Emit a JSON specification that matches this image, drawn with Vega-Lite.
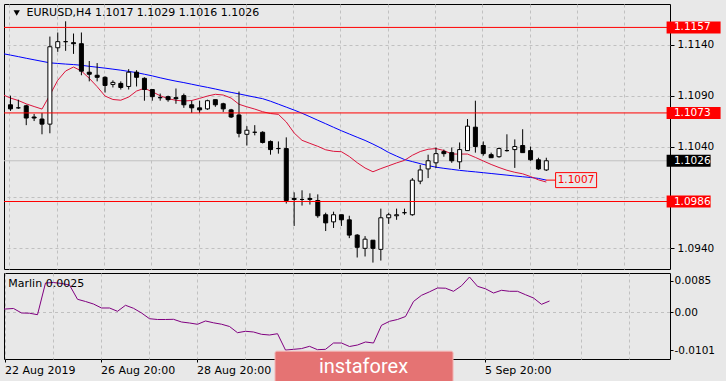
{
  "$schema": "https://vega.github.io/schema/vega-lite/v6.json",
  "background": "#e8e8e8",
  "padding": {"left": 3, "top": 3, "right": 10, "bottom": 0},
  "spacing": 2,
  "config": {
    "view": {"stroke": "#000000", "strokeWidth": 1, "fill": "#e8e8e8"},
    "font": "DejaVu Sans",
    "axis": {"labelFont": "DejaVu Sans", "labelFontSize": 10.5, "labelColor": "#000000", "tickColor": "#000000", "domain": false, "gridColor": "#c0c0c0", "gridDash": [3, 3]},
    "text": {"font": "DejaVu Sans", "fontSize": 11}
  },
  "datasets": {
    "candles": [
      {"i":-1,"fast":1.10910,"slow":1.11313,"marlin":0.00080},
      {"i":0,"o":1.1081,"h":1.1090,"l":1.1075,"c":1.1077,"fast":1.10876,"slow":1.11298,"marlin":0.00094},
      {"i":1,"o":1.1078,"h":1.1086,"l":1.1077,"c":1.1078,"fast":1.10852,"slow":1.11283,"marlin":0.00108},
      {"i":2,"o":1.1080,"h":1.1081,"l":1.1061,"c":1.1068,"fast":1.10819,"slow":1.11267,"marlin":-0.00013},
      {"i":3,"o":1.1069,"h":1.1072,"l":1.1065,"c":1.1068,"fast":1.10793,"slow":1.11252,"marlin":-0.00019},
      {"i":4,"o":1.1067,"h":1.1073,"l":1.1052,"c":1.1062,"fast":1.10768,"slow":1.11237,"marlin":-0.00059},
      {"i":5,"o":1.1062,"h":1.1148,"l":1.1053,"c":1.1138,"fast":1.10906,"slow":1.11222,"marlin":0.00793},
      {"i":6,"o":1.1137,"h":1.1152,"l":1.1133,"c":1.1143,"fast":1.11051,"slow":1.11216,"marlin":0.00806},
      {"i":7,"o":1.1143,"h":1.1163,"l":1.1134,"c":1.1143,"fast":1.11142,"slow":1.11210,"marlin":0.00780},
      {"i":8,"o":1.1142,"h":1.1151,"l":1.1131,"c":1.1141,"fast":1.11181,"slow":1.11205,"marlin":0.00739},
      {"i":9,"o":1.1141,"h":1.1152,"l":1.1110,"c":1.1114,"fast":1.11142,"slow":1.11198,"marlin":0.00355},
      {"i":10,"o":1.1113,"h":1.1124,"l":1.1104,"c":1.1111,"fast":1.11070,"slow":1.11188,"marlin":0.00296},
      {"i":11,"o":1.1110,"h":1.1122,"l":1.1104,"c":1.1108,"fast":1.10988,"slow":1.11179,"marlin":0.00228},
      {"i":12,"o":1.1108,"h":1.1109,"l":1.1093,"c":1.1100,"fast":1.10896,"slow":1.11170,"marlin":0.00121},
      {"i":13,"o":1.1101,"h":1.1105,"l":1.1098,"c":1.1103,"fast":1.10862,"slow":1.11160,"marlin":0.00121},
      {"i":14,"o":1.1102,"h":1.1104,"l":1.1096,"c":1.1098,"fast":1.10855,"slow":1.11150,"marlin":0.00032},
      {"i":15,"o":1.1099,"h":1.1116,"l":1.1096,"c":1.1113,"fast":1.10886,"slow":1.11138,"marlin":0.00194},
      {"i":16,"o":1.1113,"h":1.1115,"l":1.1099,"c":1.1108,"fast":1.10945,"slow":1.11126,"marlin":0.00113},
      {"i":17,"o":1.1107,"h":1.1108,"l":1.1085,"c":1.1096,"fast":1.10972,"slow":1.11110,"marlin":-0.00013},
      {"i":18,"o":1.1096,"h":1.1096,"l":1.1085,"c":1.1089,"fast":1.10938,"slow":1.11094,"marlin":-0.00167},
      {"i":19,"o":1.1088,"h":1.1092,"l":1.1085,"c":1.1088,"fast":1.10899,"slow":1.11075,"marlin":-0.00188},
      {"i":20,"o":1.1089,"h":1.1090,"l":1.1084,"c":1.1086,"fast":1.10870,"slow":1.11058,"marlin":-0.00188},
      {"i":21,"o":1.1088,"h":1.1097,"l":1.1082,"c":1.1087,"fast":1.10854,"slow":1.11042,"marlin":-0.00183},
      {"i":22,"o":1.1090,"h":1.1092,"l":1.1078,"c":1.1081,"fast":1.10847,"slow":1.11028,"marlin":-0.00255},
      {"i":23,"o":1.1081,"h":1.1085,"l":1.1073,"c":1.1078,"fast":1.10852,"slow":1.11012,"marlin":-0.00282},
      {"i":24,"o":1.1078,"h":1.1085,"l":1.1073,"c":1.1076,"fast":1.10873,"slow":1.10996,"marlin":-0.00317},
      {"i":25,"o":1.1077,"h":1.1086,"l":1.1076,"c":1.1085,"fast":1.10896,"slow":1.10981,"marlin":-0.00228},
      {"i":26,"o":1.1086,"h":1.1086,"l":1.1079,"c":1.1081,"fast":1.10913,"slow":1.10965,"marlin":-0.00277},
      {"i":27,"o":1.1082,"h":1.1083,"l":1.1074,"c":1.1077,"fast":1.10906,"slow":1.10948,"marlin":-0.00315},
      {"i":28,"o":1.1076,"h":1.1077,"l":1.1068,"c":1.1069,"fast":1.10876,"slow":1.10932,"marlin":-0.00376},
      {"i":29,"o":1.1071,"h":1.1094,"l":1.1049,"c":1.1053,"fast":1.10815,"slow":1.10917,"marlin":-0.00543},
      {"i":30,"o":1.1052,"h":1.1060,"l":1.1041,"c":1.1056,"fast":1.10790,"slow":1.10901,"marlin":-0.00505},
      {"i":31,"o":1.1054,"h":1.1061,"l":1.1051,"c":1.1054,"fast":1.10768,"slow":1.10885,"marlin":-0.00524},
      {"i":32,"o":1.1054,"h":1.1055,"l":1.1043,"c":1.1044,"fast":1.10742,"slow":1.10870,"marlin":-0.00586},
      {"i":33,"o":1.1045,"h":1.1046,"l":1.1032,"c":1.1037,"fast":1.10724,"slow":1.10845,"marlin":-0.00605},
      {"i":34,"o":1.1038,"h":1.1045,"l":1.1033,"c":1.1038,"fast":1.10716,"slow":1.10816,"marlin":-0.00570},
      {"i":35,"o":1.1038,"h":1.1049,"l":1.0984,"c":1.0987,"fast":1.10641,"slow":1.10787,"marlin":-0.01010},
      {"i":36,"o":1.0989,"h":1.0995,"l":1.0962,"c":1.0988,"fast":1.10533,"slow":1.10758,"marlin":-0.00990},
      {"i":37,"o":1.0988,"h":1.0997,"l":1.0982,"c":1.0988,"fast":1.10461,"slow":1.10727,"marlin":-0.00970},
      {"i":38,"o":1.0989,"h":1.0994,"l":1.0983,"c":1.0988,"fast":1.10431,"slow":1.10693,"marlin":-0.00909},
      {"i":39,"o":1.0987,"h":1.0993,"l":1.0970,"c":1.0972,"fast":1.10402,"slow":1.10658,"marlin":-0.01000},
      {"i":40,"o":1.0973,"h":1.0975,"l":1.0957,"c":1.0965,"fast":1.10368,"slow":1.10624,"marlin":-0.00990},
      {"i":41,"o":1.0966,"h":1.0976,"l":1.0960,"c":1.0973,"fast":1.10353,"slow":1.10589,"marlin":-0.00820},
      {"i":42,"o":1.0973,"h":1.0973,"l":1.0962,"c":1.0968,"fast":1.10349,"slow":1.10555,"marlin":-0.00820},
      {"i":43,"o":1.0968,"h":1.0972,"l":1.0950,"c":1.0953,"fast":1.10302,"slow":1.10523,"marlin":-0.00914},
      {"i":44,"o":1.0953,"h":1.0954,"l":1.0931,"c":1.0941,"fast":1.10241,"slow":1.10491,"marlin":-0.00874},
      {"i":45,"o":1.0940,"h":1.0952,"l":1.0932,"c":1.0949,"fast":1.10189,"slow":1.10460,"marlin":-0.00793},
      {"i":46,"o":1.0948,"h":1.0948,"l":1.0926,"c":1.0940,"fast":1.10152,"slow":1.10424,"marlin":-0.00820},
      {"i":47,"o":1.0939,"h":1.0979,"l":1.0928,"c":1.0970,"fast":1.10183,"slow":1.10385,"marlin":-0.00344},
      {"i":48,"o":1.0970,"h":1.0975,"l":1.0964,"c":1.0973,"fast":1.10211,"slow":1.10341,"marlin":-0.00237},
      {"i":49,"o":1.0972,"h":1.0979,"l":1.0968,"c":1.0973,"fast":1.10239,"slow":1.10306,"marlin":-0.00188},
      {"i":50,"o":1.0975,"h":1.0979,"l":1.0973,"c":1.0975,"fast":1.10264,"slow":1.10272,"marlin":-0.00108},
      {"i":51,"o":1.0973,"h":1.1009,"l":1.0972,"c":1.1007,"fast":1.10314,"slow":1.10252,"marlin":0.00296},
      {"i":52,"o":1.1006,"h":1.1022,"l":1.1003,"c":1.1017,"fast":1.10351,"slow":1.10232,"marlin":0.00462},
      {"i":53,"o":1.1018,"h":1.1032,"l":1.1009,"c":1.1026,"fast":1.10373,"slow":1.10213,"marlin":0.00556},
      {"i":54,"o":1.1024,"h":1.1039,"l":1.1019,"c":1.1033,"fast":1.10380,"slow":1.10197,"marlin":0.00659},
      {"i":55,"o":1.1035,"h":1.1037,"l":1.1030,"c":1.1033,"fast":1.10361,"slow":1.10186,"marlin":0.00653},
      {"i":56,"o":1.1034,"h":1.1039,"l":1.1024,"c":1.1026,"fast":1.10326,"slow":1.10176,"marlin":0.00570},
      {"i":57,"o":1.1025,"h":1.1044,"l":1.1018,"c":1.1037,"fast":1.10326,"slow":1.10166,"marlin":0.00718},
      {"i":58,"o":1.1036,"h":1.1067,"l":1.1036,"c":1.1060,"fast":1.10326,"slow":1.10158,"marlin":0.00954},
      {"i":59,"o":1.1059,"h":1.1085,"l":1.1034,"c":1.1040,"fast":1.10293,"slow":1.10151,"marlin":0.00704},
      {"i":60,"o":1.1041,"h":1.1045,"l":1.1031,"c":1.1033,"fast":1.10258,"slow":1.10143,"marlin":0.00637},
      {"i":61,"o":1.1032,"h":1.1034,"l":1.1029,"c":1.1029,"fast":1.10224,"slow":1.10135,"marlin":0.00524},
      {"i":62,"o":1.1030,"h":1.1039,"l":1.1029,"c":1.1038,"fast":1.10194,"slow":1.10127,"marlin":0.00597},
      {"i":63,"o":1.1036,"h":1.1052,"l":1.1035,"c":1.1036,"fast":1.10167,"slow":1.10119,"marlin":0.00570},
      {"i":64,"o":1.1037,"h":1.1047,"l":1.1019,"c":1.1040,"fast":1.10147,"slow":1.10111,"marlin":0.00570},
      {"i":65,"o":1.1041,"h":1.1057,"l":1.1034,"c":1.1034,"fast":1.10132,"slow":1.10103,"marlin":0.00478},
      {"i":66,"o":1.1036,"h":1.1040,"l":1.1026,"c":1.1027,"fast":1.10105,"slow":1.10096,"marlin":0.00390},
      {"i":67,"o":1.1027,"h":1.1029,"l":1.1017,"c":1.1018,"fast":1.10073,"slow":1.10087,"marlin":0.00220},
      {"i":68,"o":1.1017,"h":1.1029,"l":1.1016,"c":1.1026,"fast":1.10051,"slow":1.10070,"marlin":0.00309}
    ],
    "levels": [
      {"price":1.1157,"kind":"level"},
      {"price":1.1073,"kind":"level"},
      {"price":1.0986,"kind":"level"},
      {"price":1.1026,"kind":"bid"},
      {"price":1.1007,"kind":"ma"}
    ]
  },
  "vconcat": [
    {
      "width": 666,
      "height": 265,
      "layer": [
        {
          "data": {"name": "levels"},
          "transform": [{"filter": "datum.kind == 'bid'"}],
          "mark": {"type": "rule", "color": "#c0c0c0", "strokeWidth": 1},
          "encoding": {"y": {"field": "price", "type": "quantitative", "title": null, "scale": {"domain": [1.09197, 1.118], "nice": false, "zero": false}}}
        },
        {
          "data": {"name": "candles"},
          "mark": {"type": "line", "color": "#0000ff", "strokeWidth": 1, "clip": true},
          "encoding": {
            "x": {"field": "i", "type": "quantitative", "title": null, "scale": {"domain": [-0.1875, 83.0625], "nice": false, "zero": false}},
            "y": {"field": "slow", "type": "quantitative", "title": null, "scale": {"domain": [1.09197, 1.118], "nice": false, "zero": false}}
          }
        },
        {
          "data": {"name": "candles"},
          "mark": {"type": "line", "color": "#dc143c", "strokeWidth": 1, "clip": true},
          "encoding": {
            "x": {"field": "i", "type": "quantitative", "title": null},
            "y": {"field": "fast", "type": "quantitative", "title": null}
          }
        },
        {
          "data": {"name": "candles"},
          "mark": {"type": "rule", "color": "#000000", "strokeWidth": 1},
          "encoding": {
            "x": {"field": "i", "type": "quantitative", "title": null,
              "scale": {"domain": [-0.1875, 83.0625], "nice": false, "zero": false},
              "axis": {"values": [-0.125, 5.875, 11.875, 17.875, 23.875, 29.875, 35.875, 41.875, 47.875, 53.875, 59.875, 65.875, 71.875, 77.875], "grid": true, "ticks": false, "labels": false, "domain": false, "title": null}},
            "y": {"field": "l", "type": "quantitative", "title": null,
              "scale": {"domain": [1.09197, 1.118], "nice": false, "zero": false},
              "axis": {"orient": "right", "values": [1.094, 1.099, 1.104, 1.109, 1.114], "labelExpr": "abs(datum.value - 1.099) < 0.00001 ? '' : format(datum.value, '.4f')", "grid": true, "tickSize": 4, "labelPadding": 3, "domain": false, "title": null}},
            "y2": {"field": "h"}
          }
        },
        {
          "data": {"name": "candles"},
          "mark": {"type": "bar", "width": 4, "stroke": "#000000", "strokeWidth": 1},
          "encoding": {
            "x": {"field": "i", "type": "quantitative", "title": null},
            "y": {"field": "o", "type": "quantitative", "title": null},
            "y2": {"field": "c"},
            "fill": {"condition": {"test": "datum.c >= datum.o", "value": "#ffffff"}, "value": "#000000"}
          }
        },
        {
          "data": {"name": "levels"},
          "transform": [{"filter": "datum.kind == 'level'"}],
          "mark": {"type": "rule", "color": "#ff0000", "strokeWidth": 1},
          "encoding": {"y": {"field": "price", "type": "quantitative", "title": null}}
        },
        {
          "data": {"name": "levels"},
          "transform": [{"filter": "datum.kind == 'ma'"}],
          "mark": {"type": "rule", "color": "#ff0000", "strokeWidth": 1},
          "encoding": {
            "x": {"datum": 67.94, "type": "quantitative"},
            "x2": {"datum": 69.19},
            "y": {"field": "price", "type": "quantitative", "title": null}
          }
        },
        {
          "data": {"name": "levels"},
          "transform": [{"filter": "datum.kind == 'ma'"}],
          "mark": {"type": "tick", "orient": "horizontal", "size": 41, "thickness": 15, "fill": "#e8e8e8", "stroke": "#ff0000", "strokeWidth": 1, "opacity": 1},
          "encoding": {
            "x": {"datum": 71.78, "type": "quantitative"},
            "y": {"field": "price", "type": "quantitative", "title": null}
          }
        },
        {
          "data": {"name": "levels"},
          "transform": [{"filter": "datum.kind == 'ma'"}],
          "mark": {"type": "text", "align": "left", "baseline": "middle", "color": "#ff0000", "fontSize": 10.5},
          "encoding": {
            "x": {"datum": 69.44, "type": "quantitative"},
            "y": {"field": "price", "type": "quantitative", "title": null},
            "text": {"field": "price", "type": "quantitative", "format": ".4f"}
          }
        },
        {
          "data": {"name": "levels"},
          "transform": [{"filter": "datum.kind == 'level' && datum.price > 1.1"}],
          "mark": {"type": "tick", "orient": "horizontal", "size": 54, "thickness": 12, "color": "#ff0000", "opacity": 1},
          "encoding": {
            "x": {"datum": 86.69, "type": "quantitative"},
            "y": {"field": "price", "type": "quantitative", "title": null}
          }
        },
        {
          "data": {"name": "levels"},
          "transform": [{"filter": "(datum.kind == 'level' && datum.price < 1.1) || datum.kind == 'bid'"}],
          "mark": {"type": "tick", "orient": "horizontal", "size": 44, "thickness": 12, "opacity": 1},
          "encoding": {
            "x": {"datum": 86.06, "type": "quantitative"},
            "y": {"field": "price", "type": "quantitative", "title": null},
            "color": {"condition": {"test": "datum.kind == 'bid'", "value": "#000000"}, "value": "#ff0000"}
          }
        },
        {
          "data": {"name": "levels"},
          "transform": [{"filter": "datum.kind != 'ma'"}],
          "mark": {"type": "text", "align": "left", "baseline": "middle", "color": "#ffffff", "fontSize": 10.5},
          "encoding": {
            "x": {"datum": 84.19, "type": "quantitative"},
            "y": {"field": "price", "type": "quantitative", "title": null},
            "text": {"field": "price", "type": "quantitative", "format": ".4f"}
          }
        },
        {
          "data": {"values": [{"label": "EURUSD,H4 1.1017 1.1029 1.1016 1.1026"}]},
          "mark": {"type": "text", "align": "left", "baseline": "middle", "color": "#000000", "fontSize": 11},
          "encoding": {
            "x": {"datum": 2.03, "type": "quantitative"},
            "y": {"datum": 1.11707, "type": "quantitative"},
            "text": {"field": "label"}
          }
        },
        {
          "data": {"values": [{"label": "EURUSD,H4 1.1017 1.1029 1.1016 1.1026"}]},
          "mark": {"type": "point", "shape": "triangle-down", "filled": true, "color": "#000000", "size": 40, "opacity": 1},
          "encoding": {
            "x": {"datum": 0.79, "type": "quantitative"},
            "y": {"datum": 1.11712, "type": "quantitative"}
          }
        }
      ]
    },
    {
      "width": 666,
      "height": 86,
      "layer": [
        {
          "data": {"values": [{"level": 0}]},
          "mark": {"type": "rule", "color": "#c0c0c0", "strokeDash": [3, 3], "strokeWidth": 1},
          "encoding": {"y": {"field": "level", "type": "quantitative", "title": null, "scale": {"domain": [-0.0125, 0.010618], "nice": false, "zero": false}}}
        },
        {
          "data": {"name": "candles"},
          "mark": {"type": "line", "color": "#800080", "strokeWidth": 1, "clip": true},
          "encoding": {
            "x": {"field": "i", "type": "quantitative", "title": null,
              "scale": {"domain": [-0.1875, 83.0625], "nice": false, "zero": false},
              "axis": {
                "values": [-0.125, 5.875, 11.875, 17.875, 23.875, 29.875, 35.875, 41.875, 47.875, 53.875, 59.875, 65.875, 71.875, 77.875],
                "grid": true, "ticks": true, "tickSize": 3,
                "tickOpacity": {"condition": {"test": "(datum.value + 0.125) % 12 == 0 && datum.value < 60", "value": 1}, "value": 0},
                "labelExpr": "(datum.value + 0.125) % 12 == 0 && datum.value < 60 ? ['22 Aug 2019','26 Aug 20:00','28 Aug 20:00','','','5 Sep 20:00'][round((datum.value + 0.125) / 12)] : ''",
                "labelFontSize": 11,
                "labelAlign": "left", "labelFlush": false, "labelOverlap": false, "labelPadding": 2, "domain": false, "title": null}},
            "y": {"field": "marlin", "type": "quantitative", "title": null,
              "scale": {"domain": [-0.0125, 0.010618], "nice": false, "zero": false},
              "axis": {"orient": "right", "values": [-0.0101, 0, 0.0085],
                "labelExpr": "datum.value > 0.001 ? '0.0085' : (datum.value < -0.001 ? '-0.0101' : '0.00')",
                "grid": false, "tickSize": 3, "labelPadding": 1, "domain": false, "title": null}}
          }
        },
        {
          "data": {"values": [{"label": "Marlin 0.0025"}]},
          "mark": {"type": "text", "align": "left", "baseline": "middle", "color": "#000000", "fontSize": 11},
          "encoding": {
            "x": {"datum": 0.35, "type": "quantitative"},
            "y": {"datum": 0.00766, "type": "quantitative"},
            "text": {"field": "label"}
          }
        },
        {
          "data": {"values": [{"label": "instaforex"}]},
          "mark": {"type": "rect", "fill": "#e57373", "stroke": "#f3b4b4", "strokeWidth": 1, "cornerRadius": 2, "opacity": 1},
          "encoding": {
            "x": {"datum": 33.69, "type": "quantitative"},
            "x2": {"datum": 55.94},
            "y": {"datum": -0.0104, "type": "quantitative"},
            "y2": {"datum": -0.0190}
          }
        },
        {
          "data": {"values": [{"label": "instaforex"}]},
          "mark": {"type": "text", "align": "center", "baseline": "middle", "color": "#ffffff", "font": "Roboto", "fontSize": 20},
          "encoding": {
            "x": {"datum": 44.75, "type": "quantitative"},
            "y": {"datum": -0.01465, "type": "quantitative"},
            "text": {"field": "label"}
          }
        }
      ]
    }
  ]
}
